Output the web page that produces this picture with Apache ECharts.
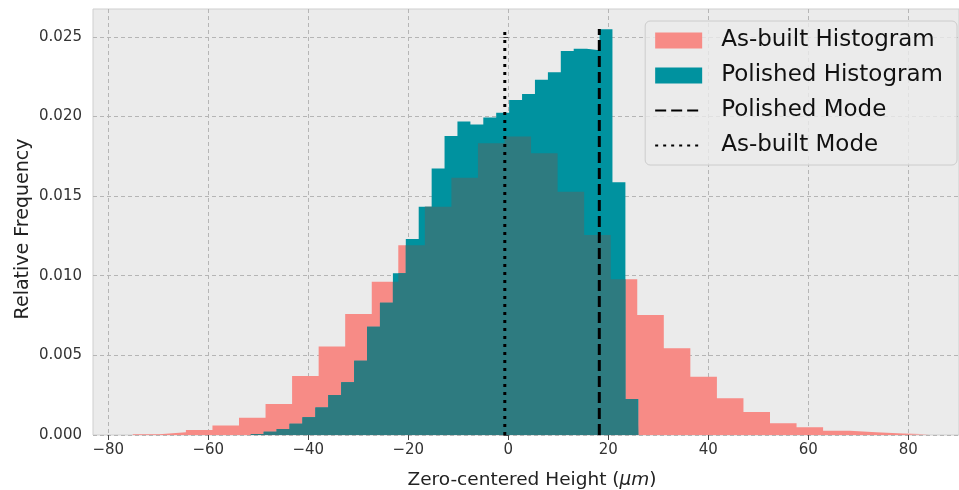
<!DOCTYPE html>
<html><head><meta charset="utf-8">
<script src="https://cdn.jsdelivr.net/npm/echarts@6/dist/echarts.min.js"></script>
<style>html,body{margin:0;padding:0;background:#fff}#c{width:959px;height:490px}</style>
</head><body><div id="c"></div>
<script>
// ---- data ----
const asBuiltEdges = [-75.10, -69.79, -64.48, -59.17, -53.86, -48.55, -43.24, -37.93, -32.62, -27.31, -22.00, -16.69, -11.38, -6.07, -0.76, 4.55, 9.86, 15.17, 20.48, 25.79, 31.10, 36.41, 41.72, 47.03, 52.34, 57.65, 62.96, 68.27, 73.58, 78.89, 84.20];
const asBuiltValues = [0.00005, 0.00017, 0.00031, 0.00059, 0.00108, 0.00195, 0.00371, 0.00555, 0.00760, 0.00963, 0.01191, 0.01434, 0.01616, 0.01832, 0.01874, 0.01769, 0.01528, 0.01256, 0.00978, 0.00754, 0.00544, 0.00366, 0.00230, 0.00145, 0.00073, 0.00048, 0.00027, 0.00017, 0.00010, 0.00004];
const polishedEdges = [-51.50, -48.92, -46.33, -43.75, -41.17, -38.58, -36.00, -33.42, -30.83, -28.25, -25.67, -23.08, -20.50, -17.92, -15.33, -12.75, -10.17, -7.58, -5.00, -2.42, 0.17, 2.75, 5.33, 7.92, 10.50, 13.08, 15.67, 18.25, 20.83, 23.42, 26.00];
const polishedValues = [0.00007, 0.00021, 0.00038, 0.00070, 0.00112, 0.00173, 0.00251, 0.00331, 0.00467, 0.00680, 0.00830, 0.01016, 0.01231, 0.01434, 0.01673, 0.01878, 0.01968, 0.01949, 0.01993, 0.02023, 0.02104, 0.02142, 0.02230, 0.02278, 0.02412, 0.02425, 0.02416, 0.02548, 0.01587, 0.00226];
const polishedMode = 18.2;
const asBuiltMode = -0.7;
const modeLineTop = 0.0255;
const xTicks = [-80, -60, -40, -20, 0, 20, 40, 60, 80];
const yTicks = [0, 0.005, 0.010, 0.015, 0.020, 0.025];
const seriesNames = ['As-built Histogram', 'Polished Histogram', 'Polished Mode', 'As-built Mode'];

// ---- helpers ----
const PINK = '#f78b86', TEAL = '#00929f', DARK = '#2e7b80';
function stepPoints(edges, values) {
  const pts = values.map((v, i) => [edges[i], v]);
  pts.push([edges[edges.length - 1], values[values.length - 1]]);
  return pts;
}
function valueAt(edges, values, x) {
  for (let i = 0; i < values.length; i++) if (x >= edges[i] && x < edges[i + 1]) return values[i];
  return 0;
}
function overlapPoints() {
  const lo = Math.max(asBuiltEdges[0], polishedEdges[0]);
  const hi = Math.min(asBuiltEdges[asBuiltEdges.length - 1], polishedEdges[polishedEdges.length - 1]);
  const xs = Array.from(new Set(asBuiltEdges.concat(polishedEdges))).filter(x => x >= lo && x <= hi).sort((a, b) => a - b);
  const pts = xs.slice(0, -1).map(x => [x, Math.min(valueAt(asBuiltEdges, asBuiltValues, x), valueAt(polishedEdges, polishedValues, x))]);
  pts.push([xs[xs.length - 1], pts[pts.length - 1][1]]);
  return pts;
}
const minus = s => String(s).replace('-', '\u2212');
const FONT = 'DejaVu Sans';
const noSymbol = {color: 'rgba(0,0,0,0)', borderColor: 'rgba(0,0,0,0)', borderWidth: 0, opacity: 0};

const chart = echarts.init(document.getElementById('c'), null, {renderer: 'canvas'});
chart.setOption({
  animation: false,
  backgroundColor: '#ffffff',
  textStyle: {fontFamily: FONT},
  grid: {left: 93, top: 9, right: 0, bottom: 55, outerBoundsMode: 'none', containLabel: false,
         show: true, backgroundColor: '#ebebeb', borderColor: '#cfcfcf', borderWidth: 1},
  legend: {
    orient: 'vertical', right: 2, top: 21,
    data: [
      {name: seriesNames[0], icon: 'rect'},
      {name: seriesNames[1], icon: 'rect'},
      {name: seriesNames[2], itemStyle: noSymbol},
      {name: seriesNames[3], itemStyle: noSymbol}
    ],
    itemWidth: 47, itemHeight: 16, itemGap: 12,
    padding: [8, 14, 8, 9],
    backgroundColor: 'rgba(235,235,235,0.8)', borderColor: '#cccccc', borderWidth: 1, borderRadius: 5,
    textStyle: {fontFamily: FONT, fontSize: 23, lineHeight: 23, color: '#111', padding: [0, 0, 0, 14]}
  },
  xAxis: {
    type: 'value', min: -83.06, max: 90.14, splitNumber: 9,
    name: 'Zero-centered Height ({i|\u03bcm})', nameLocation: 'middle', nameGap: 36, nameMoveOverlap: false,
    nameTextStyle: {fontFamily: FONT, fontSize: 18.5, color: '#222', padding: [0, 0, 0, 12],
      rich: {i: {fontFamily: FONT, fontSize: 18.5, fontStyle: 'italic', color: '#222'}}},
    axisLine: {show: false},
    axisTick: {show: true, customValues: xTicks, length: 5, lineStyle: {color: '#444'}},
    axisLabel: {customValues: xTicks, margin: 8, fontFamily: FONT, fontSize: 15, color: '#333', formatter: v => minus(v)},
    splitLine: {show: true, lineStyle: {color: '#b5b5b5', type: [4, 3], width: 1}}
  },
  yAxis: {
    type: 'value', min: 0, max: 0.02675, interval: 0.005,
    name: 'Relative Frequency', nameLocation: 'middle', nameGap: 60, nameMoveOverlap: false,
    nameTextStyle: {fontFamily: FONT, fontSize: 19, color: '#222', padding: [0, 14, 0, 0]},
    axisLine: {show: false},
    axisTick: {show: true, customValues: yTicks, length: 5, lineStyle: {color: '#444'}},
    axisLabel: {customValues: yTicks, margin: 11, fontFamily: FONT, fontSize: 15, color: '#333', formatter: v => v.toFixed(3)},
    splitLine: {show: true, lineStyle: {color: '#b5b5b5', type: [4, 3], width: 1}}
  },
  series: [
    {name: seriesNames[0], type: 'line', step: 'end', data: stepPoints(asBuiltEdges, asBuiltValues), symbol: 'none', showSymbol: false,
     lineStyle: {width: 0, opacity: 0}, areaStyle: {color: PINK, opacity: 1}, itemStyle: {color: PINK}, silent: true, z: 2},
    {name: seriesNames[1], type: 'line', step: 'end', data: stepPoints(polishedEdges, polishedValues), symbol: 'none', showSymbol: false,
     lineStyle: {width: 0, opacity: 0}, areaStyle: {color: TEAL, opacity: 1}, itemStyle: {color: TEAL}, silent: true, z: 3},
    {name: 'overlap', type: 'line', step: 'end', data: overlapPoints(), symbol: 'none', showSymbol: false,
     lineStyle: {width: 0, opacity: 0}, areaStyle: {color: DARK, opacity: 1}, itemStyle: {color: DARK}, silent: true, z: 4},
    {name: seriesNames[2], type: 'line', data: [[polishedMode, 0], [polishedMode, modeLineTop]], symbol: 'none', showSymbol: false,
     lineStyle: {color: '#000', width: 3, type: [11, 5], cap: 'butt'}, itemStyle: {color: '#000'}, silent: true, z: 5},
    {name: seriesNames[3], type: 'line', data: [[asBuiltMode, 0], [asBuiltMode, modeLineTop]], symbol: 'none', showSymbol: false,
     lineStyle: {color: '#000', width: 3, type: [3, 5], cap: 'butt'}, itemStyle: {color: '#000'}, silent: true, z: 5}
  ]
});
</script>
</body></html>
